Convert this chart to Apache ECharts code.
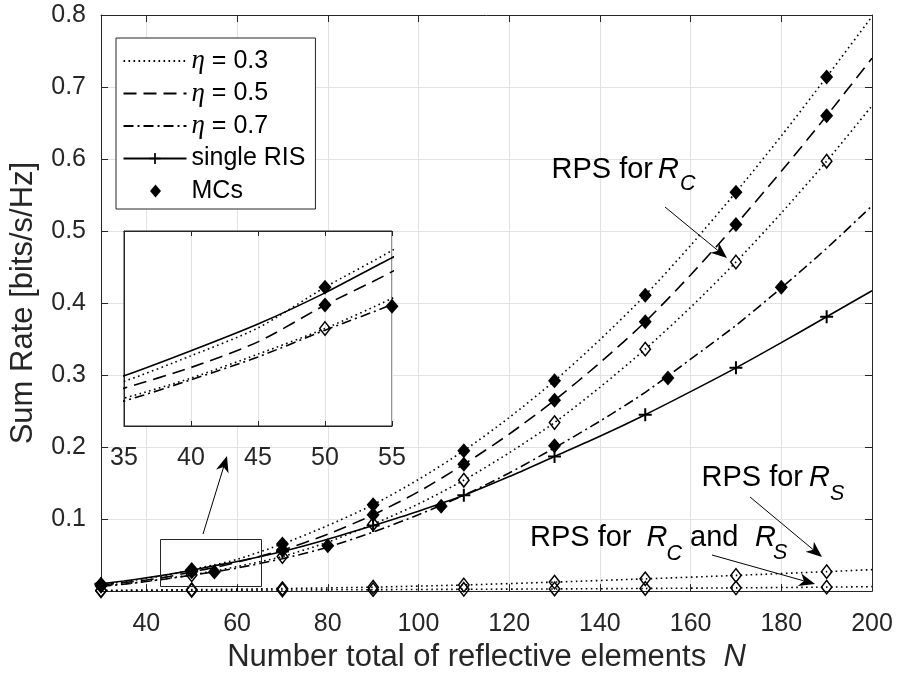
<!DOCTYPE html>
<html>
<head>
<meta charset="utf-8">
<title>Sum rate versus number of reflective elements</title>
<script src="https://cdn.jsdelivr.net/npm/echarts@6/dist/echarts.min.js"></script>
<style>
  html, body { margin: 0; padding: 0; background: #fff; }
  #chart { width: 899px; height: 678px; }
</style>
</head>
<body>
<div id="chart"></div>
<script>
// ---- data -------------------------------------------------------------
// analytical curves, sampled at these N
const N_CURVE = [30, 35, 40, 45, 50, 55, 60, 70, 80, 90, 100, 110, 120, 130, 140, 150, 160, 170, 180, 190, 200];
const eta03     = [0.0093, 0.0130, 0.0176, 0.0226, 0.0299, 0.0365, 0.044, 0.0655, 0.091, 0.120, 0.155, 0.195, 0.241, 0.292, 0.349, 0.411, 0.480, 0.554, 0.632, 0.714, 0.798];
const eta05     = [0.0085, 0.0118, 0.0155, 0.0201, 0.0267, 0.0327, 0.040, 0.057, 0.079, 0.106, 0.138, 0.176, 0.218, 0.265, 0.317, 0.374, 0.439, 0.509, 0.583, 0.660, 0.740];
const eta07     = [0.0068, 0.0095, 0.0133, 0.0174, 0.0222, 0.0268, 0.032, 0.045, 0.061, 0.082, 0.106, 0.133, 0.164, 0.199, 0.236, 0.276, 0.322, 0.369, 0.421, 0.476, 0.535];
const singleRIS = [0.0103, 0.0140, 0.0185, 0.0233, 0.0289, 0.0352, 0.041, 0.055, 0.072, 0.091, 0.111, 0.133, 0.159, 0.187, 0.215, 0.245, 0.277, 0.310, 0.345, 0.381, 0.417];
const rpsRC     = [0.0072, 0.0100, 0.0136, 0.0179, 0.0225, 0.0279, 0.034, 0.048, 0.068, 0.093, 0.121, 0.154, 0.192, 0.234, 0.283, 0.336, 0.394, 0.457, 0.525, 0.597, 0.674];

const N_RPS   = [30, 50, 70, 90, 110, 130, 150, 170, 190, 200];
const rpsRS   = [0.001, 0.002, 0.0035, 0.0055, 0.0085, 0.0125, 0.017, 0.0218, 0.027, 0.0298];
const rpsRCRS = [0.0005, 0.001, 0.0015, 0.002, 0.0025, 0.003, 0.0037, 0.0045, 0.0055, 0.0062];

// Monte-Carlo points and markers
const N_MC      = [30, 50, 70, 90, 110, 130, 150, 170, 190];
const mcEta03   = [0.0095, 0.0299, 0.0655, 0.120, 0.195, 0.292, 0.411, 0.554, 0.714];
const mcEta05   = [0.0087, 0.0267, 0.057, 0.106, 0.176, 0.265, 0.374, 0.509, 0.660];
const N_MC07    = [30, 55, 80, 105, 130, 155, 180];
const mcEta07   = [0.0075, 0.0265, 0.063, 0.118, 0.202, 0.296, 0.422];
const mkRIS     = [0.0103, 0.0289, 0.055, 0.091, 0.133, 0.187, 0.245, 0.310, 0.381];
const mkRpsRC   = [0.0072, 0.0225, 0.048, 0.093, 0.154, 0.234, 0.336, 0.457, 0.597];
const mkRpsRS   = [0.001, 0.002, 0.0035, 0.0055, 0.0085, 0.0125, 0.017, 0.0218, 0.027];
const mkRpsRCRS = [0.0005, 0.001, 0.0015, 0.002, 0.0025, 0.003, 0.0037, 0.0045, 0.0055];

// axis ticks
const X_TICKS = [40, 60, 80, 100, 120, 140, 160, 180, 200];
const LEGEND_NAMES = ['η = 0.3', 'η = 0.5', 'η = 0.7', 'single RIS', 'MCs'];

// ---- styles -------------------------------------------------------------
const AX = '#262626';
const GRIDC = '#e2e2e2';
const SANS = '"Liberation Sans", Arial, Helvetica, sans-serif';
const SERIF = '"Liberation Serif", "DejaVu Serif", serif';
const DOT = [1.6, 3.4];
const DASH = [13, 7];
const DASHDOT = [10, 4, 2, 4];
const PLUS = 'path://M5.5,0 H7.5 V5.5 H13 V7.5 H7.5 V13 H5.5 V7.5 H0 V5.5 H5.5 Z';
// legend key: a lone diamond in the middle of the 63x14 key box
const KEY_DIAMOND = 'path://M0,0 L0,0 M63,14 L63,14 M32,0.5 L37.5,7 L32,13.5 L26.5,7 Z';

const pairs = (xs, ys) => xs.map((x, i) => [x, ys[i]]);
const within = (xs, ys, lo, hi) => pairs(xs, ys).filter(p => p[0] >= lo && p[0] <= hi);

function curve(name, xs, ys, dash, xi, yi, z) {
  return {
    type: 'line', name, data: pairs(xs, ys), xAxisIndex: xi, yAxisIndex: yi,
    smooth: 0.25, symbol: 'none', color: '#000',
    lineStyle: { color: '#000', width: 1.6, type: dash, cap: 'butt' },
    z, silent: true, animation: false
  };
}
function filled(name, data, xi, yi, z) {
  return { type: 'scatter', name, data, xAxisIndex: xi, yAxisIndex: yi, symbol: 'diamond',
    symbolSize: [13, 15], itemStyle: { color: '#000', opacity: 1 },
    z, silent: true, animation: false, clip: false };
}
function hollow(name, data, xi, yi, z) {
  return { type: 'scatter', name, data, xAxisIndex: xi, yAxisIndex: yi, symbol: 'diamond',
    symbolSize: [10.5, 13.5], itemStyle: { color: 'rgba(0,0,0,0)', borderColor: '#000', borderWidth: 1.5, opacity: 1 },
    z, silent: true, animation: false, clip: false };
}

// ---- series -------------------------------------------------------------
const risLine = curve('single RIS', N_CURVE, singleRIS, 'solid', 0, 0, 2);
risLine.symbol = PLUS;
risLine.showSymbol = false;

const series = [
  curve('η = 0.3', N_CURVE, eta03, DOT, 0, 0, 2),
  curve('η = 0.5', N_CURVE, eta05, DASH, 0, 0, 2),
  curve('η = 0.7', N_CURVE, eta07, DASHDOT, 0, 0, 2),
  risLine,
  curve('RPS R_C', N_CURVE, rpsRC, DOT, 0, 0, 2),
  curve('RPS R_S', N_RPS, rpsRS, DOT, 0, 0, 2),
  curve('RPS R_C R_S', N_RPS, rpsRCRS, DOT, 0, 0, 2),
  filled('MCs', pairs(N_MC, mcEta03), 0, 0, 3),
  filled('MCs', pairs(N_MC, mcEta05), 0, 0, 3),
  filled('MCs', pairs(N_MC07, mcEta07), 0, 0, 3),
  { type: 'scatter', name: 'single RIS points', data: pairs(N_MC, mkRIS), xAxisIndex: 0, yAxisIndex: 0,
    symbol: PLUS, symbolSize: 13, itemStyle: { color: '#000', opacity: 1 }, z: 3, silent: true, animation: false, clip: false },
  hollow('RPS points', pairs(N_MC, mkRpsRC), 0, 0, 3),
  hollow('RPS points', pairs(N_MC, mkRpsRS), 0, 0, 3),
  hollow('RPS points', pairs(N_MC, mkRpsRCRS), 0, 0, 3),

  // magnified view, N from 35 to 55
  curve('zoom η = 0.3', N_CURVE, eta03, DOT, 2, 2, 6),
  curve('zoom η = 0.5', N_CURVE, eta05, DASH, 2, 2, 6),
  curve('zoom η = 0.7', N_CURVE, eta07, DASHDOT, 2, 2, 6),
  curve('zoom single RIS', N_CURVE, singleRIS, 'solid', 2, 2, 6),
  curve('zoom RPS R_C', N_CURVE, rpsRC, DOT, 2, 2, 6),
  filled('zoom MCs', within(N_MC, mcEta03, 35, 55), 2, 2, 7),
  filled('zoom MCs', within(N_MC, mcEta05, 35, 55), 2, 2, 7),
  filled('zoom MCs', within(N_MC07, mcEta07, 35, 55), 2, 2, 7),
  hollow('zoom RPS points', within(N_MC, mkRpsRC, 35, 55), 2, 2, 7)
];

// ---- annotations ----------------------------------------------------------
function arrow(x1, y1, x2, y2) {
  const dx = x2 - x1, dy = y2 - y1, L = Math.hypot(dx, dy);
  const ux = dx / L, uy = dy / L, nx = -uy, ny = ux;
  const hl = 16, hw = 6.5, back = 4.5;
  const bx = x2 - ux * hl, by = y2 - uy * hl;
  const mx = x2 - ux * (hl - back), my = y2 - uy * (hl - back);
  return [
    { type: 'line', z: 20, silent: true, shape: { x1, y1, x2: mx, y2: my }, style: { stroke: '#000', lineWidth: 1 } },
    { type: 'polygon', z: 20, silent: true,
      shape: { points: [[x2, y2], [bx + nx * hw, by + ny * hw], [mx, my], [bx - nx * hw, by - ny * hw]] },
      style: { fill: '#000' } }
  ];
}
const BIG = 29, SUB = 21.5;
function txt(s, x, baseline, size, italic) {
  return { type: 'text', z: 20, silent: true, x, y: baseline - 0.35 * size,
    style: { text: s, fontSize: size, fontFamily: SANS, fontStyle: italic ? 'italic' : 'normal',
             fill: '#000', align: 'left', verticalAlign: 'middle' } };
}

const graphics = [
  // frame marking the magnified region
  { type: 'rect', z: 20, silent: true, shape: { x: 160.5, y: 539.5, width: 101, height: 47 },
    style: { fill: 'none', stroke: AX, lineWidth: 1 } },
  ...arrow(203, 534, 227, 456),
  ...arrow(665, 207, 727, 258),
  ...arrow(750, 497, 822, 557),
  ...arrow(712, 555, 815, 584),
  txt('RPS for', 551.5, 180, BIG, false),
  txt('R', 658, 180, BIG, true),
  txt('C', 680, 191.5, SUB, true),
  txt('RPS for', 701.5, 488.5, BIG, false),
  txt('R', 809, 488.5, BIG, true),
  txt('S', 830, 501.5, SUB, true),
  txt('RPS for', 530, 548.5, BIG, false),
  txt('R', 646.5, 548.5, BIG, true),
  txt('C', 666.5, 561.5, SUB, true),
  txt('and', 690, 548.5, BIG, false),
  txt('R', 755, 548.5, BIG, true),
  txt('S', 773, 560.5, SUB, true)
];

// ---- axes -------------------------------------------------------------
const tickIn = len => ({ show: true, inside: true, length: len, lineStyle: { color: AX, width: 1 } });
const axLine = { show: true, onZero: false, lineStyle: { color: AX, width: 1 } };
const label = { color: AX, fontSize: 25, fontFamily: SANS };

const option = {
  animation: false,
  backgroundColor: '#fff',
  grid: [
    { left: 99, top: 15, right: 27, bottom: 85, show: false },
    { left: 124, top: 231, width: 268, height: 195, show: true, backgroundColor: '#fff',
      borderColor: AX, borderWidth: 1, z: 4 }
  ],
  xAxis: [
    { type: 'value', gridIndex: 0, min: 30, max: 200, position: 'bottom',
      axisLine: axLine,
      axisTick: Object.assign(tickIn(7), { customValues: X_TICKS }),
      axisLabel: Object.assign({ margin: 21, customValues: X_TICKS }, label),
      splitLine: { show: true, lineStyle: { color: GRIDC, width: 1 } },
      name: '{t|Number total of reflective elements  }{i|N}',
      nameLocation: 'middle', nameGap: 49,
      nameTextStyle: { rich: {
        t: { fontSize: 31, fontFamily: SANS, color: AX },
        i: { fontSize: 31, fontFamily: SANS, color: AX, fontStyle: 'italic' } } } },
    { type: 'value', gridIndex: 0, min: 30, max: 200, position: 'top',
      axisLine: axLine,
      axisTick: Object.assign(tickIn(7), { customValues: X_TICKS }),
      axisLabel: { show: false }, splitLine: { show: false } },
    { type: 'value', gridIndex: 1, min: 35, max: 55, interval: 5, position: 'bottom', z: 5,
      axisLine: axLine, axisTick: tickIn(5),
      axisLabel: Object.assign({ margin: 20 }, label),
      splitLine: { show: true, lineStyle: { color: GRIDC, width: 1 } } },
    { type: 'value', gridIndex: 1, min: 35, max: 55, interval: 5, position: 'top', z: 5,
      axisLine: axLine, axisTick: tickIn(5),
      axisLabel: { show: false }, splitLine: { show: false } }
  ],
  yAxis: [
    { type: 'value', gridIndex: 0, min: 0, max: 0.8, interval: 0.1, position: 'left',
      axisLine: axLine, axisTick: tickIn(7),
      axisLabel: Object.assign({ margin: 15, formatter: v => (v === 0 ? '' : v.toFixed(1)) }, label),
      splitLine: { show: true, lineStyle: { color: GRIDC, width: 1 } },
      name: 'Sum Rate [bits/s/Hz]', nameLocation: 'middle', nameGap: 62, nameRotate: 90,
      nameTextStyle: { fontSize: 31, fontFamily: SANS, color: AX } },
    { type: 'value', gridIndex: 0, min: 0, max: 0.8, interval: 0.1, position: 'right',
      axisLine: axLine, axisTick: tickIn(7),
      axisLabel: { show: false }, splitLine: { show: false } },
    { type: 'value', gridIndex: 1, min: 0.005, max: 0.04, position: 'left', z: 5,
      axisLine: axLine, axisTick: { show: false },
      axisLabel: { show: false }, splitLine: { show: false } }
  ],
  legend: {
    left: 116, top: 38, orient: 'vertical', selectedMode: false, z: 10,
    data: LEGEND_NAMES.map((n, i) => (i < 3 ? { name: n, itemStyle: { opacity: 0 } }
                                     : i === 4 ? { name: n, icon: KEY_DIAMOND } : { name: n })),
    itemWidth: 63, itemHeight: 14, itemGap: 4.5,
    padding: [9, 10, 4, 6.5],
    backgroundColor: '#fff', borderColor: AX, borderWidth: 1, borderRadius: 0,
    formatter: n => (n.startsWith('η') ? '{g|η}' + n.slice(1) : n),
    textStyle: { fontSize: 25, fontFamily: SANS, color: '#000', lineHeight: 28,
      rich: { g: { fontSize: 27, fontFamily: SERIF, fontStyle: 'italic', color: '#000', lineHeight: 28 } } }
  },
  series,
  graphic: graphics
};

const chart = echarts.init(document.getElementById('chart'), null, { renderer: 'canvas' });
chart.setOption(option);
</script>
</body>
</html>
